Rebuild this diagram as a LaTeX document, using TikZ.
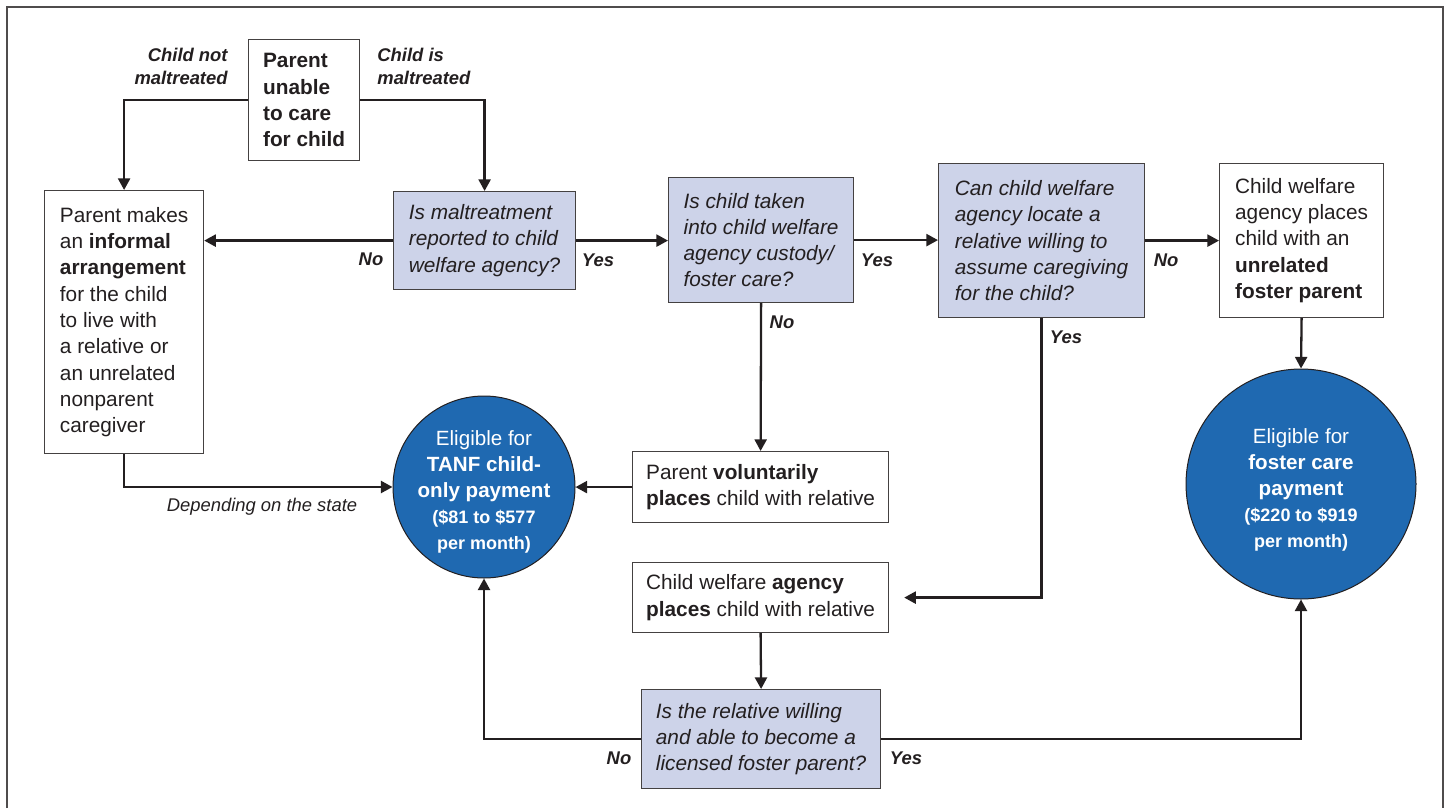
\documentclass[tikz,border=0pt]{standalone}
\usepackage{fontspec}
\setmainfont{Liberation Sans}
\usetikzlibrary{arrows.meta}
\definecolor{ink}{HTML}{231F20}
\definecolor{lav}{HTML}{CDD3E9}
\definecolor{circ}{HTML}{1F69B1}
\begin{document}
\begin{tikzpicture}[x=0.5pt,y=-0.5pt,
  box/.style={draw=ink!85, line width=0.6pt, anchor=north west, inner sep=2pt, align=left, text=ink, font=\fontsize{10.4}{13.15}\selectfont},
  qbox/.style={box, fill=lav, font=\fontsize{10.4}{13.15}\selectfont\itshape},
  pay/.style={circle, draw=ink, line width=0.5pt, fill=circ, text=white, align=center, inner sep=-10pt, font=\fontsize{10.3}{13}\selectfont},
  arr/.style={draw=ink, line width=1.15pt, -{Triangle[length=5.8pt,width=6pt]}},
  lbl/.style={font=\fontsize{9.2}{11.5}\selectfont\bfseries\itshape, inner sep=0pt, text=ink},
  note/.style={font=\fontsize{9.2}{11}\selectfont\itshape, inner sep=0pt, text=ink}
]
\useasboundingbox (0,0) rectangle (1449,808);
\draw[ink!80, line width=0.6pt] (7,808) -- (7,7) -- (1443,7) -- (1443,808);

% boxes
\node[box, minimum width=55.5pt, minimum height=60.5pt, font=\fontsize{10.4}{13.15}\selectfont\bfseries] (A) at (248,39)
  {Parent\\unable\\to care\\for child};
\node[box, minimum width=79.5pt, minimum height=131.5pt] (B) at (44,190)
  {Parent makes\\an \textbf{informal}\\\textbf{arrangement}\\for the child\\to live with\\a relative or\\an unrelated\\nonparent\\caregiver};
\node[qbox, minimum width=91pt, minimum height=49pt] (C) at (393,191)
  {Is maltreatment\\reported to child\\welfare agency?};
\node[qbox, minimum width=92.5pt, minimum height=62.5pt] (D) at (668,177)
  {Is child taken\\into child welfare\\agency custody/\\foster care?};
\node[qbox, minimum width=103pt, minimum height=77pt] (E) at (938,163)
  {Can child welfare\\agency locate a\\relative willing to\\assume caregiving\\for the child?};
\node[box, minimum width=82pt, minimum height=77pt] (F) at (1219,163)
  {Child welfare\\agency places\\child with an\\\textbf{unrelated}\\\textbf{foster parent}};
\node[box, minimum width=128pt, minimum height=35.5pt] (H) at (632,451)
  {Parent \textbf{voluntarily}\\\textbf{places} child with relative};
\node[box, minimum width=128pt, minimum height=35pt] (G) at (632,562)
  {Child welfare \textbf{agency}\\\textbf{places} child with relative};
\node[qbox, minimum width=119.5pt, minimum height=49.5pt] (I) at (641,689)
  {Is the relative willing\\and able to become a\\licensed foster parent?};

% payment circles
\node[pay, minimum size=91pt] (T) at (484,487)
  {\rule{0pt}{12.5pt}Eligible for\\\textbf{TANF child-}\\\textbf{only payment}\\{\fontsize{9}{12}\selectfont\bfseries (\$81 to \$577}\\{\fontsize{9}{12}\selectfont\bfseries per month)}};
\node[pay, minimum size=115pt] (P) at (1301,484)
  {\rule{0pt}{13.5pt}Eligible for\\\textbf{foster care}\\\textbf{payment}\\{\fontsize{9}{12}\selectfont\bfseries (\$220 to \$919}\\{\fontsize{9}{12}\selectfont\bfseries per month)}};

% connectors
\draw[arr] (A.west) -| (B.north);
\draw[arr] (A.east) -| (C.north);
\draw[arr] (C.west) -- (C.west -| B.east);
\draw[arr] (C.east) -- (C.east -| D.west);
\draw[arr] (D.east) -- (D.east -| E.west);
\draw[arr] (E.east) -- (E.east -| F.west);
\draw[arr] (D.south) -- (H.north);
\draw[arr] (H.west) -- (H.west -| T.east);
\draw[arr] (B.south) |- (T.west);
\coordinate (gEnd) at ([xshift=7.5pt]G.east);
\draw[arr] (E.south) |- (gEnd);
\draw[arr] (G.south) -- (I.north);
\draw[arr] (I.west) -| (T.south);
\draw[arr] (I.east) -| (P.south);
\draw[arr] (F.south) -- (P.north);

% labels
\node[lbl, anchor=east, align=right] (lnm) at (228,66.5) {Child not\\maltreated};
\node[lbl, anchor=west, align=left] (lim) at (377,66.5) {Child is\\maltreated};
\node[lbl] (l1) at (371,259) {No};
\node[lbl] (l2) at (598,260) {Yes};
\node[lbl] (l3) at (877,260) {Yes};
\node[lbl] (l4) at (1166,260) {No};
\node[lbl] (l5) at (782,322) {No};
\node[lbl] (l6) at (1066,337) {Yes};
\node[lbl] (l7) at (619,758) {No};
\node[lbl] (l8) at (906,758) {Yes};
\node[note] (dep) at (262,507) {Depending on the state};
\end{tikzpicture}
\end{document}
